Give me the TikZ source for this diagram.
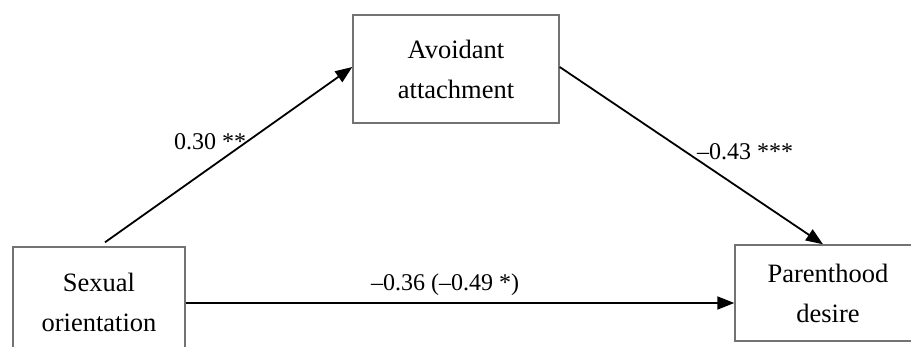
\documentclass[tikz,border=0pt]{standalone}
\usepackage{fontspec}
\setmainfont{Liberation Serif}
\usetikzlibrary{arrows.meta}
\begin{document}
\begin{tikzpicture}[x=1pt,y=-1pt,
  box/.style={draw=black!55,line width=1.4pt,inner sep=0pt,align=center,
    font=\fontsize{26.5}{40}\selectfont},
  arr/.style={line width=1.8pt,-{Triangle[length=17pt,width=13pt]}},
  lbl/.style={font=\fontsize{24}{28}\selectfont,inner sep=0pt}]
\useasboundingbox (0,0) rectangle (911,347);
\clip (0,0) rectangle (911,347);
\node[box,minimum width=206pt,minimum height=108pt] (aa) at (456,69) {Avoidant\\attachment};
\node[box,minimum width=172pt,minimum height=110pt] (so) at (99,302) {Sexual\\orientation};
\node[box,minimum width=186pt,minimum height=96pt] (pd) at (828,293) {Parenthood\\desire};
\coordinate (h) at (0,303);
\draw[arr] ([xshift=6pt,yshift=4pt]so.north) -- ([yshift=2pt]aa.west);
\draw[arr] ([yshift=2pt]aa.east) -- ([xshift=-5pt]pd.north);
\draw[arr] (so.east |- h) -- (pd.west |- h);
\node[lbl] (l1) at (210,142) {0.30 **};
\node[lbl] (l2) at (745,152) {–0.43 ***};
\node[lbl] (l3) at (445,285) {–0.36 (–0.49 *)};
\end{tikzpicture}
\end{document}
